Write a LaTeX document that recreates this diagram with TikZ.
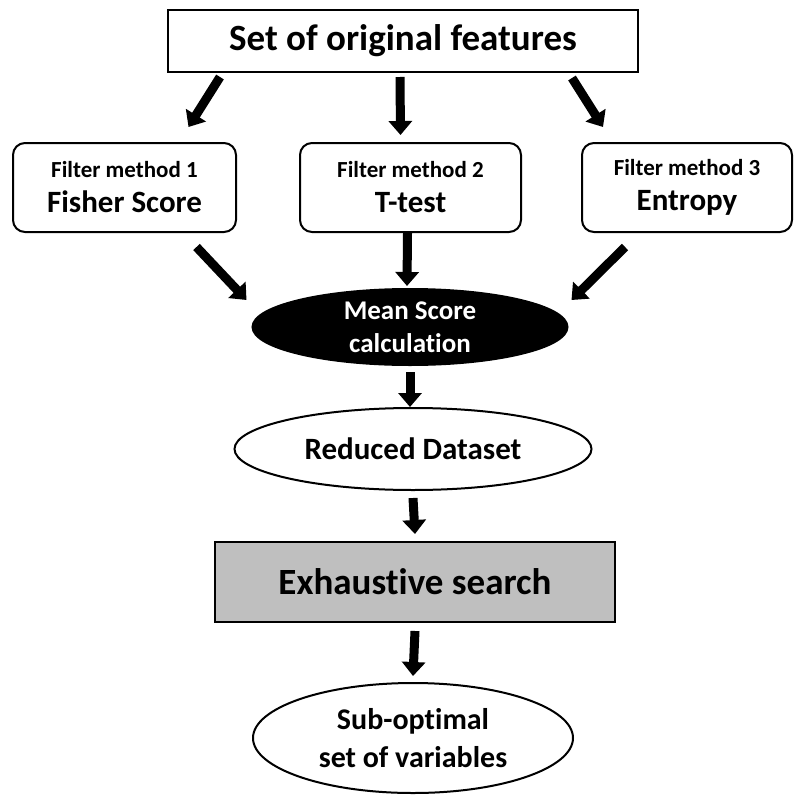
\documentclass[tikz,border=0pt]{standalone}
\usepackage{fontspec}
\setmainfont{Carlito}[Ligatures=NoCommon]
\usepackage{tikz}
\usetikzlibrary{arrows.meta,positioning,shapes.geometric,calc}
\definecolor{Search}{HTML}{BFBFBF}

\begin{document}
\begin{tikzpicture}[x=1pt,y=-1pt,font=\bfseries,every node/.style={align=center},
  flow/.style={-{Triangle[width=23pt,length=14pt]},line width=9pt},
  plainbox/.style={draw,line width=2pt,inner sep=0pt},
  filterbox/.style={plainbox,rounded corners=12pt,minimum height=89pt,
    font=\bfseries\fontsize{31}{35}\selectfont},
  oval/.style={draw,ellipse,line width=2pt,inner sep=0pt}]
  \useasboundingbox (0,0) rectangle (795,795);
  \node[plainbox,minimum width=470pt,minimum height=62pt,
    font=\bfseries\fontsize{37}{42}\selectfont] (orig) at (403,41) {Set of original features};
  \node[filterbox,minimum width=223pt] (filt1) at (124.5,187.5)
    {{\fontsize{23}{26}\selectfont Filter method 1}\\Fisher Score};
  \node[filterbox,minimum width=221pt] (filt2) at (410.5,187.5)
    {{\fontsize{23}{26}\selectfont Filter method 2}\\T-test};
  \node[filterbox,minimum width=210pt] (filt3) at (687,187.5)
    {{\fontsize{23}{26}\selectfont Filter method 3}\\Entropy};
  \node[oval,fill=black,text=white,minimum width=315pt,minimum height=76pt,inner ysep=-8pt,
    font=\bfseries\fontsize{27}{33}\selectfont] (mean) at (410,327) {Mean Score\\calculation};
  \node[oval,minimum width=357pt,minimum height=82pt,
    font=\bfseries\fontsize{31}{36}\selectfont] (reduced) at (413,449) {Reduced Dataset};
  \node[plainbox,fill=Search,minimum width=400pt,minimum height=80pt,
    font=\bfseries\fontsize{37}{42}\selectfont] (search) at (415,582) {Exhaustive search};
  \node[oval,minimum width=320pt,minimum height=110pt,
    font=\bfseries\fontsize{30}{38}\selectfont] (subopt) at (413,738) {Sub-optimal\\set of variables};

  % original features to the three filters
  \draw[flow] ([xshift=-183pt,yshift=-4pt]orig.south) -- ([xshift=64pt,yshift=15pt]filt1.north);
  \draw[flow] ([xshift=-3pt,yshift=-4pt]orig.south) -- ([xshift=-10pt,yshift=7pt]filt2.north);
  \draw[flow] ([xshift=169pt,yshift=-5pt]orig.south) -- ([xshift=-84pt,yshift=15pt]filt3.north);
  % filters to the mean score
  \draw[flow] ([xshift=72pt,yshift=-14pt]filt1.south) -- ([xshift=-5pt,yshift=27pt]mean.west);
  \draw[flow] ([xshift=-3pt]filt2.south) -- ([xshift=-3pt,yshift=2pt]mean.north);
  \draw[flow] ([xshift=-62pt,yshift=-14pt]filt3.south) -- ([xshift=3pt,yshift=27pt]mean.east);
  % down the chain
  \draw[flow] ([yshift=-6pt]mean.south) -- ([xshift=-3pt]reduced.north);
  \draw[flow] ([yshift=-7pt]reduced.south) -- ([yshift=7pt]search.north);
  \draw[flow] ([yshift=-8pt]search.south) -- ([yshift=6pt]subopt.north);
\end{tikzpicture}
\end{document}
